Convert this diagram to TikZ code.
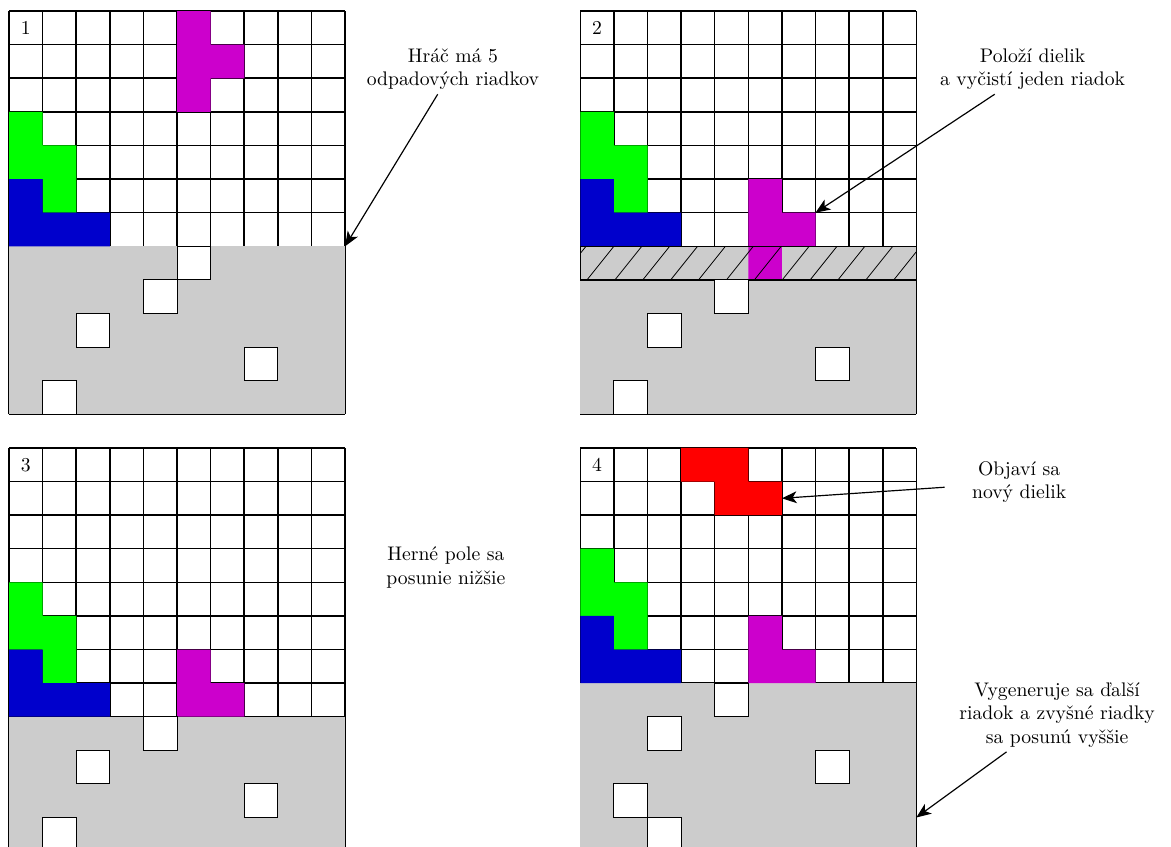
\documentclass[tikz,border=0pt]{standalone}
\usepackage{tikz}
\usetikzlibrary{arrows.meta}
\definecolor{tmag}{RGB}{204,0,204}
\definecolor{tgreen}{RGB}{0,255,0}
\definecolor{tblue}{RGB}{0,0,204}
\definecolor{tred}{RGB}{255,0,0}
\definecolor{tgray}{RGB}{204,204,204}

\begin{document}
\begin{tikzpicture}[>={Stealth[length=7.5pt, width=6pt, inset=2pt]}, x=0.6cm, y=0.6cm,
  cell/.style={draw=black, line width=0.8pt},
  garbage/.style={fill=tgray},
  hole/.style={draw=black, line width=0.5pt, fill=white},
  note/.style={align=center, minimum width=2.65cm, inner sep=2pt},
  num/.style={inner sep=0pt}]
  \useasboundingbox (-0.27,0.125) rectangle (34.58,25.33);

  % 1: five garbage rows
  \begin{scope}[shift={(0,13)}]
    \draw[cell, step={(1,1)}] (0,0) grid (10,12);
    \fill[garbage] (0,0) rectangle (10,5);
    \fill[tmag] (5,12) -- (6,12) -- (6,11) -- (7,11) -- (7,10) -- (6,10) -- (6,9) -- (5,9) -- cycle;
    \fill[tgreen] (0,9) -- (1,9) -- (1,8) -- (2,8) -- (2,6) -- (1,6) -- (1,7) -- (0,7) -- cycle;
    \fill[tblue] (0,7) -- (1,7) -- (1,6) -- (3,6) -- (3,5) -- (0,5) -- cycle;
    \foreach \x/\y in {5/4, 4/3, 2/2, 7/1, 1/0}
      \draw[hole] (\x,\y) rectangle ++(1,1);
    \node[num] (n1) at (0.5,11.5) {1};
    \coordinate (t1) at (10,5);
  \end{scope}

  % 2: piece dropped, row cleared
  \begin{scope}[shift={(17,13)}]
    \draw[cell, step={(1,1)}] (0,0) grid (10,12);
    \fill[garbage] (0,0) rectangle (10,5);
    \fill[tmag] (5,7) -- (6,7) -- (6,6) -- (7,6) -- (7,5) -- (6,5) -- (6,4) -- (5,4) -- cycle;
    \fill[tgreen] (0,9) -- (1,9) -- (1,8) -- (2,8) -- (2,6) -- (1,6) -- (1,7) -- (0,7) -- cycle;
    \fill[tblue] (0,7) -- (1,7) -- (1,6) -- (3,6) -- (3,5) -- (0,5) -- cycle;
    \begin{scope}
      \clip (0,4) rectangle (10,5);
      \foreach \a in {-1,...,12}
        \draw[line width=0.4pt] ({0.2+0.83*\a},4) -- ++(0.8,1);
    \end{scope}
    \draw[cell] (0,4) rectangle (10,5);
    \foreach \x/\y in {4/3, 2/2, 7/1, 1/0}
      \draw[hole] (\x,\y) rectangle ++(1,1);
    \node[num] (n2) at (0.5,11.5) {2};
    \coordinate (t2) at (7,6);
  \end{scope}

  % 3: field moves down
  \begin{scope}
    \draw[cell, step={(1,1)}] (0,0) grid (10,12);
    \fill[garbage] (0,0) rectangle (10,4);
    \fill[tmag] (5,6) -- (6,6) -- (6,5) -- (7,5) -- (7,4) -- (5,4) -- cycle;
    \fill[tgreen] (0,8) -- (1,8) -- (1,7) -- (2,7) -- (2,5) -- (1,5) -- (1,6) -- (0,6) -- cycle;
    \fill[tblue] (0,6) -- (1,6) -- (1,5) -- (3,5) -- (3,4) -- (0,4) -- cycle;
    \foreach \x/\y in {4/3, 2/2, 7/1, 1/0}
      \draw[hole] (\x,\y) rectangle ++(1,1);
    \node[num] (n3) at (0.5,11.5) {3};
  \end{scope}

  % 4: new piece, new garbage row
  \begin{scope}[shift={(17,0)}]
    \draw[cell, step={(1,1)}] (0,0) grid (10,12);
    \fill[garbage] (0,0) rectangle (10,5);
    \fill[tred] (3,12) -- (5,12) -- (5,11) -- (6,11) -- (6,10) -- (4,10) -- (4,11) -- (3,11) -- cycle;
    \fill[tmag] (5,7) -- (6,7) -- (6,6) -- (7,6) -- (7,5) -- (5,5) -- cycle;
    \fill[tgreen] (0,9) -- (1,9) -- (1,8) -- (2,8) -- (2,6) -- (1,6) -- (1,7) -- (0,7) -- cycle;
    \fill[tblue] (0,7) -- (1,7) -- (1,6) -- (3,6) -- (3,5) -- (0,5) -- cycle;
    \foreach \x/\y in {4/4, 2/3, 7/2, 1/1, 2/0}
      \draw[hole] (\x,\y) rectangle ++(1,1);
    \node[num] (n4) at (0.5,11.5) {4};
    \coordinate (t4) at (6,10.5);
    \coordinate (t5) at (10,1);
  \end{scope}

  \node[note] (hrac) at (13.21,23.27) {Hráč má 5\\odpadových riadkov};
  \node[note] (polozi) at (30.46,23.27) {Položí dielik\\a vyčistí jeden riadok};
  \node[note] (herne) at (13.0,8.44) {Herné pole sa\\posunie nižšie};
  \node[note] (objavi) at (30.06,10.98) {Objaví sa\\nový dielik};
  \node[note] (vygen) at (31.19,4.05) {Vygeneruje sa ďalší\\riadok a zvyšné riadky\\sa posunú vyššie};

  \draw[->, line width=0.6pt] (hrac) -- (t1);
  \draw[->, line width=0.6pt] (polozi) -- (t2);
  \draw[->, line width=0.6pt] (objavi) -- (t4);
  \draw[->, line width=0.6pt] (vygen) -- (t5);
\end{tikzpicture}
\end{document}
